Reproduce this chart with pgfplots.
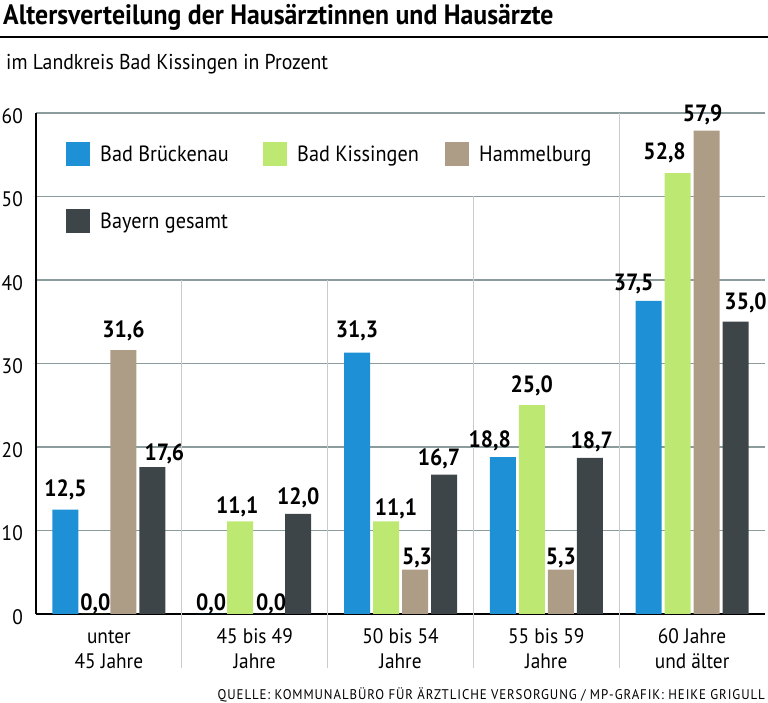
\documentclass[border=0pt]{standalone}
\usepackage{fontspec}
\setmainfont{PT Sans}[FakeStretch=0.92]
\usepackage{pgfplots}
\pgfplotsset{compat=1.18}
\usepackage{pgfplotstable}
\definecolor{cBB}{RGB}{30,144,214}
\definecolor{cBK}{RGB}{189,232,113}
\definecolor{cHB}{RGB}{173,157,134}
\definecolor{cBY}{RGB}{62,69,72}
\definecolor{gridc}{RGB}{140,156,156}
\definecolor{sepc}{RGB}{200,204,208}
\newcommand\fl{\rule{0pt}{16pt}}
% x = age group, y = percent, dx/dy = label nudge (pt)
\pgfplotstableread{
x y dx dy
0 12.5 0 13
1 0.0 0 3
2 31.3 0 15
3 18.8 -13 10
4 37.5 -15 10
}\tBB
\pgfplotstableread{
x y dx dy
0 0.0 1 3
1 11.1 -3 8
2 11.1 10 6
3 25.0 0 13
4 52.8 -13 14
}\tBK
\pgfplotstableread{
x y dx dy
0 31.6 0 13
1 0.0 2 3
2 5.3 2 5
3 5.3 0 5
4 57.9 -4 9
}\tHB
\pgfplotstableread{
x y dx dy
0 17.6 12 7
1 12.0 0 9
2 16.7 -5 9
3 18.7 2 9
4 35.0 10 12
}\tBY
\begin{document}
\begin{tikzpicture}
\path[use as bounding box] (0,0) rectangle (768pt,703pt);
\node[anchor=base west, inner sep=0pt, font=\bfseries\fontsize{28}{28}\selectfont] at (3pt,678pt) {Altersverteilung der Hausärztinnen und Hausärzte};
\draw[line width=1.5pt] (0,666pt) -- (768pt,666pt);
\node[anchor=base west, inner sep=0pt, font=\fontsize{21.5}{24}\selectfont] at (6pt,633pt) {im Landkreis Bad Kissingen in Prozent};
\node[anchor=base east, inner sep=0pt, font=\fontsize{14}{14}\selectfont\addfontfeature{LetterSpace=6.5}] at (765pt,3pt) {QUELLE: KOMMUNALBÜRO FÜR ÄRZTLICHE VERSORGUNG / MP-GRAFIK: HEIKE GRIGULL};
\begin{axis}[
 scale only axis, width=729pt, height=501pt, at={(36pt,89pt)}, anchor=south west,
 xmin=-0.5, xmax=4.5, ymin=0, ymax=60, clip=false,
 ybar=3pt, bar width=26pt,
 axis lines*=left, axis line style={line width=1.5pt, black},
 ytick={0,10,20,30,40,50,60}, ymajorgrids, grid style={gridc, line width=1.2pt},
 xtick={0,1,2,3,4},
 xticklabels={{\fl unter\\45 Jahre},{\fl 45 bis 49\\Jahre},{\fl 50 bis 54\\Jahre},{\fl 55 bis 59\\Jahre},{\fl 60 Jahre\\und älter}},
 major tick length=0pt,
 xticklabel style={align=center, font=\fontsize{21}{25}\selectfont, anchor=north, inner sep=0pt, yshift=-13pt},
 yticklabel style={font=\fontsize{21}{21}\selectfont, anchor=east, inner sep=0pt, xshift=-13pt, yshift=-3pt},
 /pgf/number format/assume math mode=true,
 nodes near coords={\pgfmathprintnumber[fixed,fixed zerofill,precision=1,use comma]{\pgfplotspointmeta}},
 visualization depends on={\thisrow{dx} \as \ldx},
 visualization depends on={\thisrow{dy} \as \ldy},
 every node near coord/.append style={anchor=base, xshift=\ldx pt, yshift=\ldy pt, font=\bfseries\fontsize{23.5}{23.5}\selectfont, inner sep=0pt, text=black},
 legend columns=3,
 legend image code/.code={\fill[#1] (0pt,-12pt) rectangle (24pt,12pt);},
 legend cell align=left,
 legend style={at={(rel axis cs:0,1)}, anchor=north west, xshift=30pt, yshift=-29pt, draw=none, fill=none, inner sep=0pt, font=\fontsize{22}{22}\selectfont, nodes={inner sep=0pt}, /tikz/every odd column/.append style={column sep=10pt}, /tikz/row sep=43pt},
]
\addplot[fill=cBB, draw=none] table[x=x,y=y] {\tBB};
\addplot[fill=cBK, draw=none] table[x=x,y=y] {\tBK};
\addplot[fill=cHB, draw=none] table[x=x,y=y] {\tHB};
\addplot[fill=cBY, draw=none] table[x=x,y=y] {\tBY};
\legend{\makebox[163pt][l]{Bad Brückenau},\makebox[148pt][l]{Bad Kissingen},Hammelburg,Bayern gesamt}
\draw[sepc, line width=1.2pt] (axis cs:0.5,40) -- (axis cs:0.5,-6.47);
\draw[sepc, line width=1.2pt] (axis cs:1.5,40) -- (axis cs:1.5,-6.47);
\draw[sepc, line width=1.2pt] (axis cs:2.5,50) -- (axis cs:2.5,-6.47);
\draw[sepc, line width=1.2pt] (axis cs:3.5,60) -- (axis cs:3.5,-6.47);
\end{axis}
\end{tikzpicture}
\end{document}
